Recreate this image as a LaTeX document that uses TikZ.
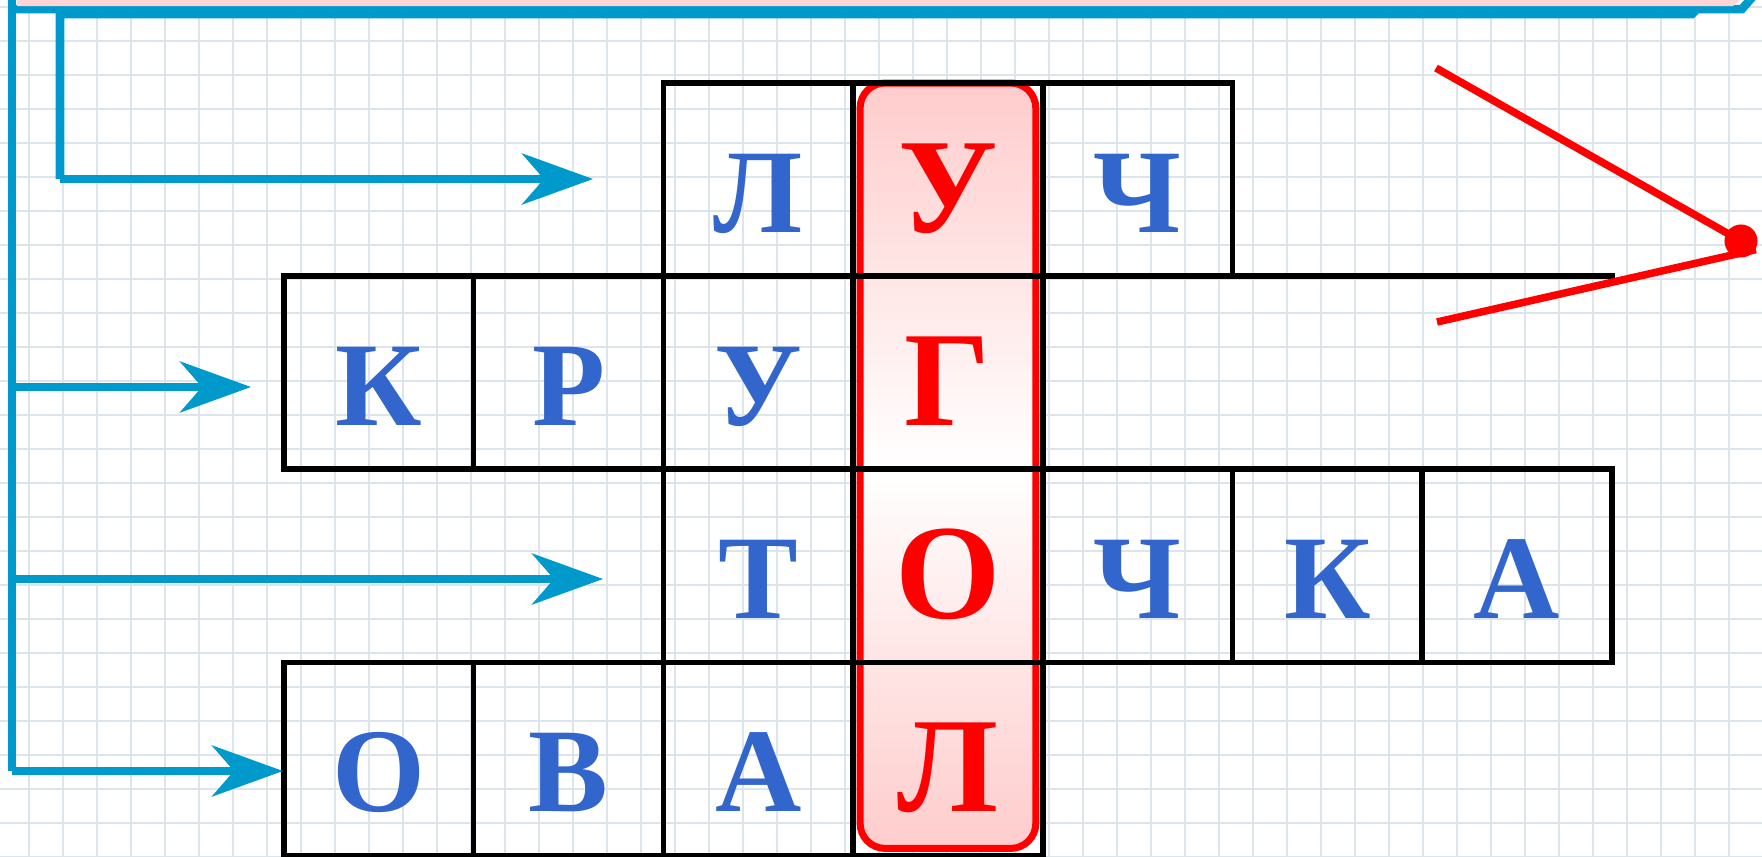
\documentclass[tikz,border=0pt]{standalone}
\usepackage{fontspec}
\setmainfont{Liberation Serif}
\usetikzlibrary{arrows.meta}
\definecolor{busblue}{RGB}{0,153,204}
\definecolor{letterblue}{RGB}{51,102,204}
\definecolor{gridgray}{RGB}{220,228,236}
\definecolor{headpink}{RGB}{255,212,212}
\begin{document}
\begin{tikzpicture}[x=0.01cm, y=-0.01cm,
  gridline/.style={gridgray, line width=0.018cm},
  cellline/.style={black, line width=0.055cm, line cap=rect},
  bus/.style={busblue, line width=0.085cm},
  feed/.style={busblue, line width=0.08cm, -{Stealth[length=0.71cm, width=0.51cm, inset=0.22cm]}},
  letter/.style={anchor=base, inner sep=0pt, text=letterblue, font=\bfseries\fontsize{34}{36}\selectfont},
  keyletter/.style={letter, text=red, font=\bfseries\fontsize{38.5}{40}\selectfont},
  ray/.style={red, line width=0.075cm}]
\def\xo{284}
\def\yo{83}
\def\cw{189.7}
\def\rh{193.1}
\def\bl{44}
\useasboundingbox (0,0) rectangle (1762,857);
% Squared paper
\foreach \gx in {29,63,...,1762} \draw[gridline] (\gx,0) -- (\gx,857);
\foreach \gy in {6.7,40.7,...,857} \draw[gridline] (0,\gy) -- (1762,\gy);
% Key word column
\draw[red, line width=0.07cm, rounded corners=0.25cm, top color=red!20, bottom color=red!20, middle color=white]
    (\xo+3*\cw+7,\yo) rectangle (\xo+4*\cw-7,\yo+4*\rh-7);
% Cell borders
\draw[cellline] (\xo+2*\cw,\yo) -- (\xo+5*\cw,\yo);
\draw[cellline] (\xo,\yo+\rh) -- (\xo+7*\cw,\yo+\rh);
\draw[cellline] (\xo,\yo+2*\rh) -- (\xo+7*\cw,\yo+2*\rh);
\draw[cellline] (\xo,\yo+3*\rh) -- (\xo+7*\cw,\yo+3*\rh);
\draw[cellline] (\xo,\yo+4*\rh) -- (\xo+4*\cw,\yo+4*\rh);
\draw[cellline] (\xo,\yo+\rh) -- (\xo,\yo+2*\rh);
\draw[cellline] (\xo,\yo+3*\rh) -- (\xo,\yo+4*\rh);
\draw[cellline] (\xo+\cw,\yo+\rh) -- (\xo+\cw,\yo+2*\rh);
\draw[cellline] (\xo+\cw,\yo+3*\rh) -- (\xo+\cw,\yo+4*\rh);
\draw[cellline] (\xo+2*\cw,\yo) -- (\xo+2*\cw,\yo+4*\rh);
\draw[cellline] (\xo+3*\cw,\yo) -- (\xo+3*\cw,\yo+4*\rh);
\draw[cellline] (\xo+4*\cw,\yo) -- (\xo+4*\cw,\yo+4*\rh);
\draw[cellline] (\xo+5*\cw,\yo) -- (\xo+5*\cw,\yo+\rh);
\draw[cellline] (\xo+5*\cw,\yo+2*\rh) -- (\xo+5*\cw,\yo+3*\rh);
\draw[cellline] (\xo+6*\cw,\yo+2*\rh) -- (\xo+6*\cw,\yo+3*\rh);
\draw[cellline] (\xo+7*\cw,\yo+2*\rh) -- (\xo+7*\cw,\yo+3*\rh);
% Row 1
\node[letter] (luch1) at (\xo+2.5*\cw,\yo+\rh-\bl) {Л};
\node[keyletter] (luch2) at (\xo+3.5*\cw,\yo+\rh-\bl) {У};
\node[letter] (luch3) at (\xo+4.5*\cw,\yo+\rh-\bl) {Ч};
% Row 2
\node[letter] (krug1) at (\xo+0.5*\cw,\yo+2*\rh-\bl) {К};
\node[letter] (krug2) at (\xo+1.5*\cw,\yo+2*\rh-\bl) {Р};
\node[letter] (krug3) at (\xo+2.5*\cw,\yo+2*\rh-\bl) {У};
\node[keyletter] (krug4) at (\xo+3.5*\cw,\yo+2*\rh-\bl) {Г};
% Row 3
\node[letter] (tochka1) at (\xo+2.5*\cw,\yo+3*\rh-\bl) {Т};
\node[keyletter] (tochka2) at (\xo+3.5*\cw,\yo+3*\rh-\bl) {О};
\node[letter] (tochka3) at (\xo+4.5*\cw,\yo+3*\rh-\bl) {Ч};
\node[letter] (tochka4) at (\xo+5.5*\cw,\yo+3*\rh-\bl) {К};
\node[letter] (tochka5) at (\xo+6.5*\cw,\yo+3*\rh-\bl) {А};
% Row 4
\node[letter] (oval1) at (\xo+0.5*\cw,\yo+4*\rh-\bl) {О};
\node[letter] (oval2) at (\xo+1.5*\cw,\yo+4*\rh-\bl) {В};
\node[letter] (oval3) at (\xo+2.5*\cw,\yo+4*\rh-\bl) {А};
\node[keyletter] (oval4) at (\xo+3.5*\cw,\yo+4*\rh-\bl) {Л};
% Bus lines
\coordinate (outup) at (12,-5);
\coordinate (outtop) at (12,9);
\coordinate (outfar) at (1742,9);
\coordinate (outcut) at (1756,-7);
\coordinate (intop) at (60,14);
\coordinate (infar) at (1692,14);
\coordinate (incut) at (1708,-2);
\coordinate (b1) at (60,179);
\coordinate (b2) at (12,387);
\coordinate (b3) at (12,579);
\coordinate (b4) at (12,771);
\coordinate (t1) at (593,179);
\coordinate (t2) at (251,387);
\coordinate (t3) at (603,579);
\coordinate (t4) at (283,771);
\draw[bus] (outup) -- (b4);
\draw[bus] (outcut) -- (outfar) -- (outtop);
\draw[bus] (incut) -- (infar) -- (intop) -- (b1);
\fill[headpink] (17,-5) -- (17,6) -- (1733,6) -- (1744,-5) -- cycle;
% Feed arrows
\draw[feed] (b1) -- (t1);
\draw[feed] (b2) -- (t2);
\draw[feed] (b3) -- (t3);
\draw[feed] (b4) -- (t4);
% Angle
\node[circle, fill=red, inner sep=0pt, minimum size=0.33cm] (vertex) at (1741,241) {};
\coordinate (ray1) at (1436,68);
\coordinate (ray2) at (1437,322);
\draw[ray] (ray1) -- (vertex.center);
\draw[ray] (ray2) -- (vertex.-30);
\end{tikzpicture}
\end{document}
